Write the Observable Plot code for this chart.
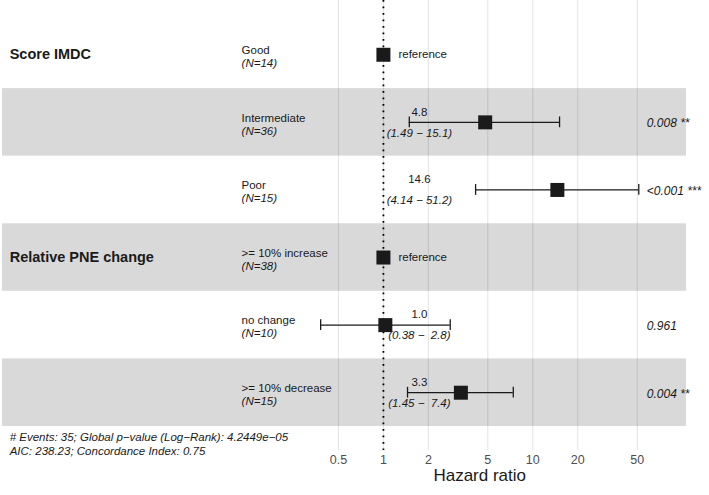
<!DOCTYPE html>
<html><head><meta charset="utf-8">
<script src="https://cdn.jsdelivr.net/npm/d3@7"></script>
<script src="https://cdn.jsdelivr.net/npm/@observablehq/plot@0.6"></script>
<style>
body{margin:0;background:#fff;}
svg text{white-space:pre;}
</style></head><body><div id="chart"></div>
<script>
const variables = ["Score IMDC", "", "", "Relative PNE change", "", ""];
const levels = ["Good", "Intermediate", "Poor", ">= 10% increase", "no change", ">= 10% decrease"];
const counts = [14, 36, 15, 38, 10, 15];
const hazard = [1, 4.8, 14.6, 1, 1.03, 3.3];
const ciLow = [null, 1.49, 4.14, null, 0.38, 1.45];
const ciHigh = [null, 15.1, 51.2, null, 2.8, 7.4];
const hrLabels = ["", "4.8", "14.6", "", "1.0", "3.3"];
const ciLabels = ["", "(1.49 \u2212 15.1)", "(4.14 \u2212 51.2)", "", "(0.38 \u2212  2.8)", "(1.45 \u2212  7.4)"];
const pLabels = ["", "0.008 **", "<0.001 ***", "", "0.961", "0.004 **"];
const isReference = [true, false, false, true, false, false];
const xTicks = [0.5, 1, 2, 5, 10, 20, 50];
const xTickLabels = ["0.5", "1", "2", "5", "10", "20", "50"];
const footer = ["# Events: 35; Global p\u2212value (Log\u2212Rank): 4.2449e\u221205", "AIC: 238.23; Concordance Index: 0.75"];

const rows = levels.map((level, i) => ({
  row: i + 1, variable: variables[i], level, n: `(N=${counts[i]})`,
  hr: hazard[i], lo: ciLow[i], hi: ciHigh[i],
  hrLabel: hrLabels[i], ciLabel: ciLabels[i], p: pLabels[i], ref: isReference[i]
}));
const est = rows.filter(d => !d.ref);
const refs = rows.filter(d => d.ref);
const bands = rows.filter(d => d.row % 2 === 0);
const ticks = xTicks.map((v, i) => ({v, label: xTickLabels[i]}));

// ggforest-like horizontal layout in log space
const cLo = d3.min(ciLow), cHi = d3.max(ciHigh);
const l0 = Math.log10(cLo), l1 = Math.log10(cHi), span = l1 - l0;
const r0 = l0 - span, r1 = l1 + 0.15 * span;
const col = f => 10 ** (r0 + f * (r1 - r0));
const colVar = 0.0105, colLevel = 0.3495, colCI = 0.6095;

const font = "'Liberation Sans', Arial, Helvetica, sans-serif";
const ink = "#1a1a1a";

const chart = Plot.plot({
  width: 709, height: 495,
  marginLeft: 2, marginRight: 23, marginTop: 0, marginBottom: 45,
  style: {fontFamily: font, background: "#fff", color: ink},
  x: {type: "log", domain: [10 ** r0, 10 ** r1], axis: null},
  y: {domain: [0.5 - 0.303, rows.length + 0.5 + 0.355], reverse: true, axis: null},
  marks: [
    Plot.ruleX(xTicks, {x: d => d, stroke: "#e3e3e3", strokeWidth: 1}),
    Plot.rect(bands, {x1: () => 10 ** r0, x2: () => 10 ** r1, y1: d => d.row - 0.5, y2: d => d.row + 0.5, fill: "#000", fillOpacity: 0.15}),
    Plot.ruleX([1], {stroke: "#000", strokeWidth: 1.8, strokeDasharray: "1.8,4.7"}),
    Plot.ruleY(est, {y: "row", x1: "lo", x2: "hi", stroke: ink, strokeWidth: 1.3}),
    Plot.ruleX(est, {x: "lo", y1: d => d.row - 0.08, y2: d => d.row + 0.08, stroke: ink, strokeWidth: 1.3}),
    Plot.ruleX(est, {x: "hi", y1: d => d.row - 0.08, y2: d => d.row + 0.08, stroke: ink, strokeWidth: 1.3}),
    Plot.dot(rows, {x: "hr", y: "row", symbol: "square", r: 7.9, fill: ink, stroke: "none"}),
    Plot.text(rows.filter(d => d.variable), {x: () => col(colVar), y: "row", text: "variable", textAnchor: "start", fontWeight: "bold", fontSize: 14.5, fill: ink}),
    Plot.text(rows, {x: () => col(colLevel), y: "row", text: "level", textAnchor: "start", fontSize: 11.5, dy: -4.5, fill: ink}),
    Plot.text(rows, {x: () => col(colLevel), y: "row", text: "n", textAnchor: "start", fontSize: 11.5, fontStyle: "italic", dy: 8.5, fill: ink}),
    Plot.text(refs, {x: "hr", y: "row", text: () => "reference", textAnchor: "start", dx: 15, fontSize: 11.5, fill: ink}),
    Plot.text(est, {x: () => col(colCI), y: "row", text: "hrLabel", fontSize: 11.5, dy: -10.5, fill: ink}),
    Plot.text(est, {x: () => col(colCI), y: "row", text: "ciLabel", fontSize: 11.5, fontStyle: "italic", dy: 10.5, fill: ink}),
    Plot.text(est, {x: () => cHi, y: "row", text: "p", textAnchor: "start", dx: 8, fontSize: 12, fontStyle: "italic", dy: 1, fill: ink}),
    Plot.text([footer.join("\n")], {x: () => col(colVar), y: () => rows.length + 0.5, textAnchor: "start", lineAnchor: "top", lineHeight: 1.24, dy: 4.5, fontSize: 11.5, fontStyle: "italic", fill: ink}),
    Plot.text(ticks, {x: "v", text: "label", frameAnchor: "bottom", lineAnchor: "top", dy: 5, fontSize: 12.5, fill: "#4d4d4d"}),
    Plot.text(["Hazard ratio"], {x: () => Math.sqrt(cLo * cHi), frameAnchor: "bottom", dy: 30.5, fontSize: 17, fill: ink})
  ]
});
document.getElementById("chart").appendChild(chart);
</script></body></html>
